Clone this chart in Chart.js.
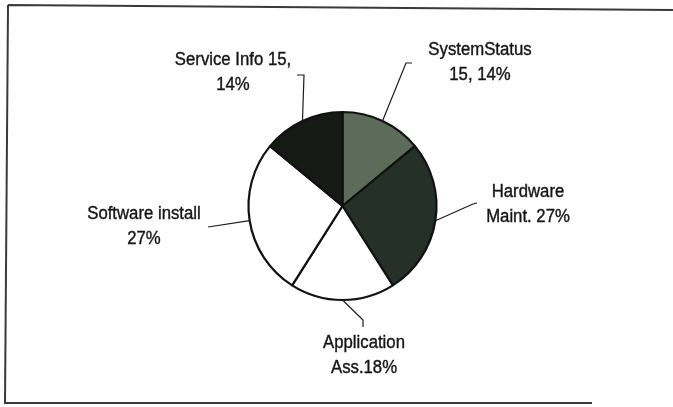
<!DOCTYPE html>
<html>
<head>
<meta charset="utf-8">
<script src="https://cdn.jsdelivr.net/npm/chart.js@4/dist/chart.umd.min.js"></script>
<style>
  html, body { margin: 0; padding: 0; background: #fff; }
  canvas { display: block; }
</style>
</head>
<body>
<canvas id="pie" width="673" height="407"></canvas>
<script>
// slice data, clockwise from 12 o'clock
var categories = ["SystemStatus", "Hardware Maint.", "Application Ass.", "Software install", "Service Info"];
var shares = [14, 27, 18, 27, 14];
var labelLines = [
    ["SystemStatus", "15, 14%"],
    ["Hardware", "Maint. 27%"],
    ["Application", "Ass.18%"],
    ["Software install", "27%"],
    ["Service Info 15,", "14%"]
];
var sliceColors = ["#5d6b5a", "#253128", "#ffffff", "#ffffff", "#151a15"];

// where each label sits and how its leader bends (text centre, elbows)
var labelLayout = [
    { x: 480, y: 50, elbows: [[406, 63], [412, 63]] },
    { x: 528, y: 192, elbows: [[473, 204], [477, 203]] },
    { x: 364, y: 343, elbows: [[363, 320], [363, 327]] },
    { x: 144, y: 214, elbows: [[208, 227]] },
    { x: 233, y: 60, elbows: [[304, 75], [297, 75]] }
];
var lineGap = 25;

var framePlugin = {
    id: "frame",
    beforeDraw: function(chart) {
        var ctx = chart.ctx;
        ctx.save();
        ctx.strokeStyle = "#3a3a3a";
        ctx.lineWidth = 2;
        ctx.beginPath();
        ctx.moveTo(8, 5);
        ctx.lineTo(673, 10);
        ctx.moveTo(8, 5);
        ctx.lineTo(5, 403);
        ctx.lineTo(592, 403);
        ctx.stroke();
        ctx.restore();
    }
};

var calloutPlugin = {
    id: "callouts",
    afterDatasetsDraw: function(chart) {
        var ctx = chart.ctx;
        var arcs = chart.getDatasetMeta(0).data;
        ctx.save();
        ctx.strokeStyle = "#1c1c1c";
        ctx.lineWidth = 1.2;
        arcs.forEach(function(arc, i) {
            var p = arc.getProps(["x", "y", "startAngle", "endAngle", "outerRadius"], true);
            var lay = labelLayout[i];
            var mid = (p.startAngle + p.endAngle) / 2;
            var ex = p.x + Math.cos(mid) * p.outerRadius;
            var ey = p.y + Math.sin(mid) * p.outerRadius;
            ctx.beginPath();
            ctx.moveTo(ex, ey);
            lay.elbows.forEach(function(pt) { ctx.lineTo(pt[0], pt[1]); });
            ctx.stroke();

            ctx.fillStyle = "#161616";
            ctx.strokeStyle = "#161616";
            ctx.lineWidth = 0.4;
            ctx.font = "18px 'Liberation Sans', Arial, sans-serif";
            ctx.textAlign = "center";
            ctx.textBaseline = "middle";
            labelLines[i].forEach(function(txt, k) {
                ctx.save();
                ctx.translate(lay.x, lay.y + k * lineGap);
                ctx.scale(0.93, 1);
                ctx.fillText(txt, 0, 0);
                ctx.strokeText(txt, 0, 0);
                ctx.restore();
            });
            ctx.strokeStyle = "#1c1c1c";
            ctx.lineWidth = 1.2;
        });
        ctx.restore();
    }
};

new Chart(document.getElementById("pie"), {
    type: "pie",
    data: {
        labels: categories,
        datasets: [{
            data: shares,
            backgroundColor: sliceColors,
            borderColor: "#111",
            borderWidth: 2.2,
            hoverOffset: 0,
            radius: 94
        }]
    },
    options: {
        responsive: false,
        animation: false,
        layout: { padding: { left: 249, right: 237, top: 112, bottom: 107 } },
        plugins: {
            legend: { display: false },
            tooltip: { enabled: false }
        }
    },
    plugins: [framePlugin, calloutPlugin]
});
</script>
</body>
</html>
